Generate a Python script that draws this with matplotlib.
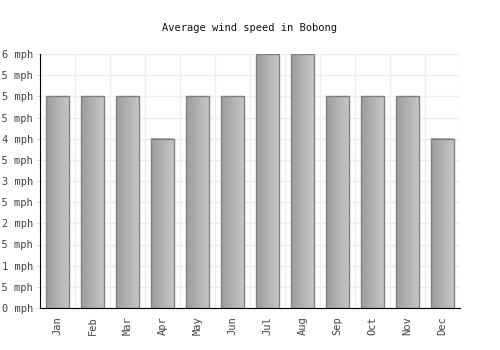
import numpy as np
import matplotlib
matplotlib.use('Agg')
import matplotlib.pyplot as plt
from matplotlib.colors import LinearSegmentedColormap

# Dados
meses = ['Jan', 'Feb', 'Mar', 'Apr', 'May', 'Jun', 'Jul', 'Aug', 'Sep', 'Oct', 'Nov', 'Dec']
vento = [5, 5, 5, 4, 5, 5, 6, 6, 5, 5, 5, 4]
y_ticks = [0, 0.5, 1, 1.5, 2, 2.5, 3, 3.5, 4, 4.5, 5, 5.5, 6]

plt.rcParams['font.family'] = 'DejaVu Sans Mono'

fig = plt.figure(figsize=(5, 3.5), dpi=100)
ax = fig.add_axes([40 / 500, 42 / 350, 420 / 500, 254 / 350])

x = np.arange(len(meses))
largura = 0.68
barras = ax.bar(x, vento, width=largura, color='none', edgecolor='#808080', linewidth=1, zorder=3)

# Gradiente nas barras
cmap = LinearSegmentedColormap.from_list('cinza', ['#9c9c9c', '#c8c8c8'])
grad = np.linspace(0, 1, 64).reshape(1, -1)
for b in barras:
    x0, y0 = b.get_x(), b.get_y()
    ax.imshow(grad, cmap=cmap, aspect='auto', extent=(x0, x0 + b.get_width(), y0, y0 + b.get_height()),
              zorder=2, interpolation='bicubic')

ax.set_xlim(-0.5, 11.5)
ax.set_ylim(0, 6)
ax.set_yticks(y_ticks)
ax.set_yticklabels([f'{v:g} mph' for v in y_ticks], fontsize=7.5, color='#444444')
ax.set_xticks(x)
ax.set_xticklabels(meses, rotation=90, fontsize=7.5, color='#444444')
ax.set_xticks(np.arange(-0.5, 12, 1), minor=True)
ax.tick_params(axis='x', which='both', length=0, pad=6)
ax.tick_params(axis='y', length=3, color='#dddddd', pad=2)

ax.grid(True, axis='y', color='#eeeeee', linewidth=1, zorder=0)
ax.grid(True, axis='x', which='minor', color='#eeeeee', linewidth=1, zorder=0)
ax.set_axisbelow(True)

for lado in ['top', 'right']:
    ax.spines[lado].set_visible(False)
ax.spines['left'].set_color('black')
ax.spines['bottom'].set_color('black')

fig.text(0.5, 1 - 28 / 350, 'Average wind speed in Bobong', ha='center', va='center', fontsize=7.5, color='#111111')

fig.savefig('out.png', dpi=100)
